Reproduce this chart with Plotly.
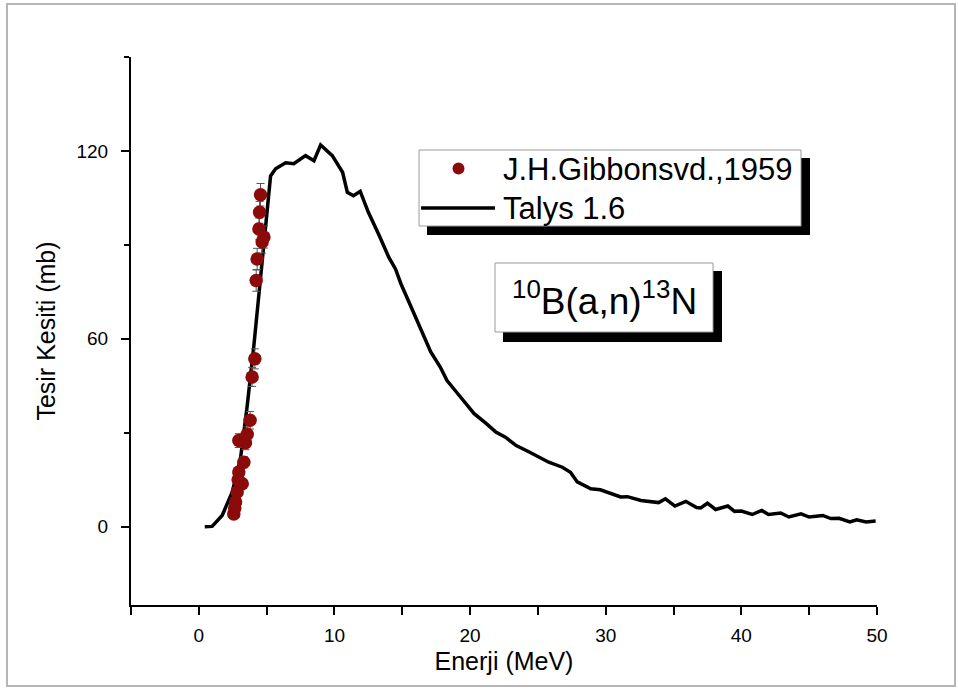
import plotly.graph_objects as go

# TALYS 1.6 calculated excitation function
talys_e = [0.44, 0.98, 1.72, 2.46, 3.07, 3.57, 4.06, 4.55, 4.97, 5.29, 5.66, 6.4, 7.0,
           7.87, 8.49, 8.98, 9.84, 10.6, 10.95, 11.4, 11.9, 12.5, 13.3, 14.0, 14.5,
           14.9, 15.5, 16.1, 16.7, 17.1, 17.8, 18.3, 19.2, 20.3, 21.2, 21.9, 22.6,
           23.4, 24.4, 25.1, 25.8, 26.8, 27.4, 27.9, 28.9, 29.6, 31.1, 31.6, 32.6,
           33.9, 34.4, 35.1, 35.9, 36.7, 37.0, 37.5, 38.1, 39.0, 39.5, 40.0, 40.8,
           41.5, 42.0, 42.9, 43.5, 44.4, 45.0, 46.0, 46.6, 47.2, 48.0, 48.5, 49.2, 49.9]
talys_xs = [0.0, 0.1, 3.6, 11.0, 21.7, 38.7, 57.9, 79.0, 97.3, 112.0, 114.3, 116.2, 115.9,
            118.5, 116.9, 121.9, 118.5, 113.2, 106.8, 105.7, 107.1, 100.4, 93.0, 86.1, 82.3,
            77.6, 71.7, 65.9, 59.5, 55.8, 51.0, 46.7, 41.9, 36.1, 32.9, 30.2, 28.6,
            25.9, 23.8, 22.2, 20.6, 19.0, 17.4, 14.3, 12.1, 11.8, 9.5, 9.6, 8.4,
            7.7, 8.9, 6.6, 8.1, 6.1, 6.0, 7.5, 5.5, 6.6, 4.9, 5.0, 3.9,
            5.2, 3.9, 4.4, 3.1, 4.1, 3.1, 3.6, 2.6, 2.7, 1.5, 2.2, 1.5, 1.8]

# J.H. Gibbons et al. (1959) measurements
exp_e = [2.58, 2.65, 2.71, 2.83, 2.9, 3.2, 2.95, 3.32, 2.95, 3.44, 3.57, 3.78,
         3.93, 4.13, 4.23, 4.3, 4.67, 4.8, 4.43, 4.48, 4.55]
exp_xs = [4.1, 6.0, 7.9, 11.1, 15.0, 13.7, 17.5, 20.6, 27.5, 26.8, 29.5, 34.0,
          47.8, 53.6, 78.6, 85.5, 90.9, 92.5, 95.1, 100.4, 106.0]
exp_err = [0.5, 0.6, 0.8, 1.0, 1.2, 1.2, 1.5, 1.8, 2.2, 2.2, 2.4, 2.8,
           3.0, 3.2, 3.4, 3.4, 3.5, 3.5, 3.5, 3.5, 3.6]

x_ticks = [0, 10, 20, 30, 40, 50]
y_ticks = [0, 60, 120]

legend_labels = ["J.H.Gibbonsvd.,1959", "Talys 1.6"]
reaction_label = "<sup>10</sup>B(a,n)<sup>13</sup>N"

W, H = 958, 689
L, R, T, B = 131, 877, 57, 605


def px(x):
    return (x - L) / (R - L)


def py(y):
    return (B - y) / (B - T)


fig = go.Figure()

fig.add_trace(go.Scatter(
    x=talys_e, y=talys_xs, mode="lines",
    line=dict(color="black", width=3.5),
    name=legend_labels[1], showlegend=False,
))

fig.add_trace(go.Scatter(
    x=exp_e, y=exp_xs, mode="markers",
    marker=dict(color="#8b0a0a", size=13.5, line=dict(width=0)),
    error_y=dict(type="data", array=exp_err, color="#555555", thickness=1, width=4),
    name=legend_labels[0], showlegend=False,
))

shapes = []
# outer frame
shapes.append(dict(type="rect", xref="paper", yref="paper",
                   x0=px(7), x1=px(955), y0=py(686), y1=py(4),
                   line=dict(color="#b5b5b5", width=2), layer="below"))

# legend box with drop shadow
shapes.append(dict(type="rect", xref="paper", yref="paper",
                   x0=px(427), x1=px(810), y0=py(235), y1=py(158),
                   fillcolor="black", line=dict(width=0)))
shapes.append(dict(type="rect", xref="paper", yref="paper",
                   x0=px(419), x1=px(801), y0=py(226), y1=py(150),
                   fillcolor="white", line=dict(color="#9a9a9a", width=1)))
shapes.append(dict(type="circle", xref="paper", yref="paper",
                   xsizemode="pixel", ysizemode="pixel",
                   xanchor=px(458.5), yanchor=py(168.5),
                   x0=-6, x1=6, y0=-6, y1=6,
                   fillcolor="#8b0a0a", line=dict(width=0)))
shapes.append(dict(type="line", xref="paper", yref="paper",
                   x0=px(421), x1=px(495), y0=py(208), y1=py(208),
                   line=dict(color="black", width=3.5)))

# reaction label box with drop shadow
shapes.append(dict(type="rect", xref="paper", yref="paper",
                   x0=px(503), x1=px(722), y0=py(342), y1=py(271),
                   fillcolor="black", line=dict(width=0)))
shapes.append(dict(type="rect", xref="paper", yref="paper",
                   x0=px(495), x1=px(713), y0=py(332), y1=py(263),
                   fillcolor="white", line=dict(color="#9a9a9a", width=1)))

font = "Liberation Sans, Arial, sans-serif"
annotations = [
    dict(xref="paper", yref="paper", x=px(501), y=py(169), xanchor="left", yanchor="middle",
         text=legend_labels[0], showarrow=False, font=dict(family=font, size=31, color="black")),
    dict(xref="paper", yref="paper", x=px(501), y=py(208), xanchor="left", yanchor="middle",
         text=legend_labels[1], showarrow=False, font=dict(family=font, size=31, color="black")),
    dict(xref="paper", yref="paper", x=px(604), y=py(298), xanchor="center", yanchor="middle",
         text=reaction_label, showarrow=False, font=dict(family=font, size=37, color="black")),
]

axis_common = dict(
    showline=True, linecolor="black", linewidth=2,
    ticks="outside", tickcolor="black", tickwidth=2, ticklen=8,
    showgrid=False, zeroline=False, mirror=False,
    tickfont=dict(family=font, size=19, color="black"),
)

fig.update_layout(
    width=W, height=H,
    margin=dict(l=L, r=W - R, t=T, b=H - B),
    paper_bgcolor="white", plot_bgcolor="white",
    showlegend=False,
    shapes=shapes, annotations=annotations,
    xaxis=dict(range=[-5, 50], tickvals=x_ticks,
               minor=dict(dtick=5, tick0=0, ticks="outside", ticklen=8, tickwidth=2, tickcolor="black"),
               ticklabelstandoff=4,
               title=dict(text="Enerji (MeV)", font=dict(family=font, size=25, color="black"), standoff=8),
               **axis_common),
    yaxis=dict(range=[-25, 150], tickvals=y_ticks,
               minor=dict(dtick=30, tick0=0, ticks="outside", ticklen=5, tickwidth=2, tickcolor="black"),
               ticklabelstandoff=9,
               title=dict(text="Tesir Kesiti (mb)", font=dict(family=font, size=25, color="black"), standoff=14),
               **axis_common),
)

fig.write_html("out.html")
